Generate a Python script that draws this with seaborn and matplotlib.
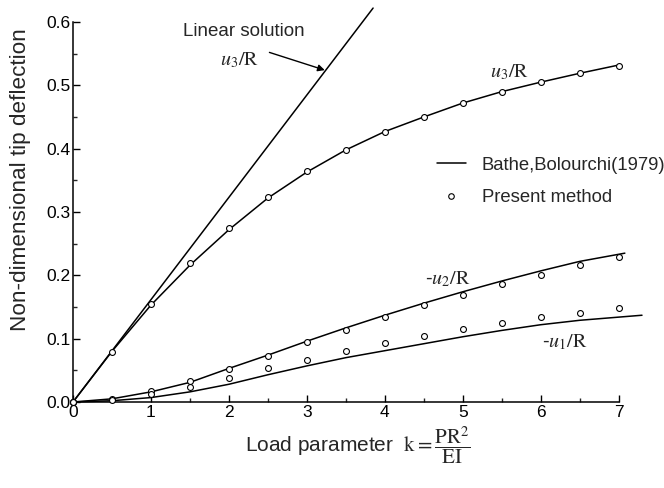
import matplotlib
matplotlib.use("Agg")
import matplotlib.pyplot as plt
from matplotlib.lines import Line2D
from matplotlib.ticker import MultipleLocator
import numpy as np
import pandas as pd
import seaborn as sns

# ---- data ----
k_pts = [0, 0.5, 1, 1.5, 2, 2.5, 3, 3.5, 4, 4.5, 5, 5.5, 6, 6.5, 7]
u3_present = [0, 0.079, 0.154, 0.220, 0.275, 0.324, 0.364, 0.398, 0.427,
              0.450, 0.472, 0.490, 0.505, 0.519, 0.531]
u2_present = [0, 0.005, 0.017, 0.033, 0.052, 0.073, 0.094, 0.114, 0.135,
              0.153, 0.169, 0.186, 0.201, 0.216, 0.229]
u1_present = [0, 0.003, 0.013, 0.024, 0.038, 0.053, 0.067, 0.080, 0.093,
              0.105, 0.115, 0.125, 0.134, 0.141, 0.149]

k_u3_line = [0, 0.5, 1, 1.5, 2, 2.5, 3, 3.5, 4, 4.5, 5, 5.5, 6, 6.5, 7]
u3_line = [0, 0.080, 0.153, 0.216, 0.272, 0.322, 0.363, 0.398, 0.427,
           0.450, 0.472, 0.490, 0.505, 0.519, 0.532]
k_u2_line = [0, 0.5, 1, 1.5, 2, 2.5, 3, 3.5, 4, 4.5, 5, 5.5, 6, 6.5, 7.08]
u2_line = [0, 0.005, 0.016, 0.031, 0.053, 0.074, 0.096, 0.117, 0.137,
           0.156, 0.174, 0.191, 0.207, 0.222, 0.235]
k_u1_line = [0, 0.5, 1, 1.5, 2, 2.5, 3, 3.5, 4, 4.5, 5, 5.5, 6, 6.5, 7, 7.3]
u1_line = [0, 0.002, 0.007, 0.016, 0.028, 0.043, 0.057, 0.070, 0.081,
           0.092, 0.103, 0.113, 0.122, 0.129, 0.134, 0.137]
k_linear = [0, 3.85]
linear_sol = [0, 0.622]

x_ticks = [0, 1, 2, 3, 4, 5, 6, 7]
y_ticks = [0.0, 0.1, 0.2, 0.3, 0.4, 0.5, 0.6]

# ---- style ----
sns.set_theme(style="ticks")
plt.rcParams["font.family"] = ["Liberation Sans", "DejaVu Sans"]
plt.rcParams["mathtext.fontset"] = "stix"

fig = plt.figure(figsize=(6.64, 4.88), dpi=100)
ax = fig.add_axes([73 / 664, (488 - 402) / 488, (642 - 73) / 664, (402 - 22) / 488])

lw = 1.1
sns.lineplot(data=pd.DataFrame({"k": k_linear, "v": linear_sol}), x="k", y="v",
             ax=ax, color="black", lw=lw, sort=False, estimator=None, clip_on=False)
for kk, vv in [(k_u3_line, u3_line), (k_u2_line, u2_line), (k_u1_line, u1_line)]:
    sns.lineplot(data=pd.DataFrame({"k": kk, "v": vv}), x="k", y="v", ax=ax,
                 color="black", lw=lw, sort=False, estimator=None, clip_on=False)

pts = pd.DataFrame({
    "k": k_pts * 3,
    "v": u3_present + u2_present + u1_present,
})
sns.scatterplot(data=pts, x="k", y="v", ax=ax, marker="o", s=18,
                facecolor="white", edgecolor="black", linewidth=0.8,
                zorder=5, clip_on=False)

ax.set_xlim(0, 7.3)
ax.set_ylim(0, 0.6)
ax.spines["top"].set_visible(False)
ax.spines["right"].set_visible(False)
ax.spines["bottom"].set_bounds(0, 7)
for s in ("left", "bottom"):
    ax.spines[s].set_linewidth(1.1)
    ax.spines[s].set_color("black")

ax.set_xticks(x_ticks)
ax.set_xticklabels([str(v) for v in x_ticks])
ax.set_yticks(y_ticks)
ax.set_yticklabels([f"{v:.1f}" for v in y_ticks])
ax.xaxis.set_minor_locator(MultipleLocator(0.5))
ax.yaxis.set_minor_locator(MultipleLocator(0.05))
ax.tick_params(which="major", direction="in", length=5, width=1.0,
               labelsize=12.5, colors="black", pad=2)
ax.tick_params(which="minor", direction="in", length=3, width=1.0)

ax.set_ylabel("Non-dimensional tip deflection", fontsize=16.2)
ax.yaxis.set_label_coords(-0.074, 0.585)
ax.set_xlabel(r"Load parameter  $\mathrm{k}=\dfrac{\mathrm{PR}^2}{\mathrm{EI}}$",
              fontsize=15, labelpad=3)

# annotations
ax.text(1.41, 0.585, "Linear solution", fontsize=13.5, va="center")
ax.text(1.88, 0.540, r"$u_3/\mathrm{R}$", fontsize=14.5, va="center")
ax.annotate("", xy=(3.23, 0.524), xytext=(2.52, 0.552),
            arrowprops=dict(arrowstyle="-|>", color="black", lw=1.0,
                            shrinkA=0, shrinkB=0, mutation_scale=10))
ax.text(5.35, 0.521, r"$u_3/\mathrm{R}$", fontsize=14.5, va="center")
ax.text(4.52, 0.194, r"-$u_2/\mathrm{R}$", fontsize=14.5, va="center")
ax.text(6.02, 0.095, r"-$u_1/\mathrm{R}$", fontsize=14.5, va="center")

handles = [
    Line2D([], [], color="black", lw=lw),
    Line2D([], [], color="black", lw=0, marker="o", markersize=4,
           markerfacecolor="white", markeredgewidth=0.8),
]
leg = ax.legend(handles, ["Bathe,Bolourchi(1979)", "Present method"],
                loc="upper left", bbox_to_anchor=(420 / 664, (488 - 140) / 488),
                bbox_transform=fig.transFigure, frameon=False, fontsize=13.3,
                handlelength=1.6, handletextpad=0.85, labelspacing=0.85)

fig.savefig("out.png", dpi=100)
